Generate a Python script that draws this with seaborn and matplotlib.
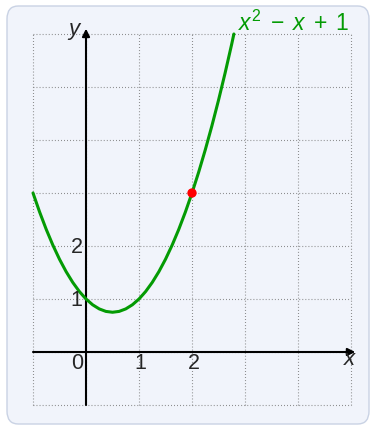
import matplotlib
matplotlib.use('Agg')
import matplotlib.pyplot as plt
import seaborn as sns
import pandas as pd
from matplotlib.patches import FancyBboxPatch


# Data

curve_x = [-1, -0.875, -0.75, -0.625, -0.5, -0.375, -0.25, -0.125, 0, 0.125, 0.25, 0.375,
           0.5, 0.625, 0.75, 0.875, 1, 1.125, 1.25, 1.375, 1.5, 1.625, 1.75, 1.875,
           2, 2.125, 2.25, 2.375, 2.5, 2.625, 2.75, 2.79]
curve_y = [3, 2.641, 2.313, 2.016, 1.75, 1.516, 1.313, 1.141, 1, 0.891, 0.813, 0.766,
           0.75, 0.766, 0.813, 0.891, 1, 1.141, 1.313, 1.516, 1.75, 2.016, 2.313, 2.641,
           3, 3.391, 3.813, 4.266, 4.75, 5.266, 5.813, 6.0]
point_x = [2]
point_y = [3]
x_ticks = [0, 1, 2]
y_ticks = [1, 2]
grid_x = [-1, 0, 1, 2, 3, 4, 5]
grid_y = [-1, 0, 1, 2, 3, 4, 5, 6]
curve_label = r'$x^2 \;-\; x \;+\; 1$'

green = '#049b04'

sns.set_style('white')
plt.rcParams['font.family'] = ['Liberation Sans', 'DejaVu Sans']
plt.rcParams['mathtext.fontset'] = 'custom'
plt.rcParams['mathtext.rm'] = 'Liberation Sans'
plt.rcParams['mathtext.it'] = 'Liberation Sans:italic'
plt.rcParams['lines.scale_dashes'] = False

fig = plt.figure(figsize=(3.75, 4.3), dpi=100)
fig.patch.set_facecolor('white')
ax = fig.add_axes([0, 0, 1, 1])
ax.patch.set_alpha(0)

# background panel
panel = FancyBboxPatch((7 / 375, 6 / 430), 362 / 375, 418 / 430,
                       boxstyle='round,pad=0,rounding_size=0.03',
                       transform=fig.transFigure, facecolor='#f1f4fb',
                       edgecolor='#c9d2e4', linewidth=1.0, zorder=-5)
fig.patches.append(panel)

# dotted grid
ax.vlines(grid_x, grid_y[0], grid_y[-1], colors='#7a7a7a', linewidth=0.8,
          linestyles=(0, (0.6, 1.6)), zorder=1)
ax.hlines(grid_y, grid_x[0], grid_x[-1], colors='#7a7a7a', linewidth=0.8,
          linestyles=(0, (0.6, 1.6)), zorder=1)

# axes with arrows
arrow = dict(arrowstyle='-|>', lw=1.5, color='black', mutation_scale=11,
             shrinkA=0, shrinkB=0)
ax.annotate('', xy=(5.08, 0), xytext=(-1, 0), arrowprops=arrow, zorder=2)
ax.annotate('', xy=(0, 6.1), xytext=(0, -1), arrowprops=arrow, zorder=2)

# curve and point
df = pd.DataFrame({'x': curve_x, 'y': curve_y})
sns.lineplot(data=df, x='x', y='y', color=green, linewidth=2.2, sort=False,
             solid_joinstyle='round', ax=ax, zorder=3)
sns.scatterplot(x=point_x, y=point_y, color='#ff0000', s=45, edgecolor='none',
                ax=ax, zorder=4)

# labels
ax.text(curve_x[-1] + 0.07, curve_y[-1] - 0.03, curve_label, color=green,
        fontsize=16.5, ha='left', va='bottom')
ax.text(-0.22, 6.05, r'$y$', fontsize=16, ha='center', va='center')
ax.text(4.98, -0.15, r'$x$', fontsize=16, ha='center', va='center')
ax.text(-0.17, -0.21, '0', fontsize=15.5, ha='center', va='center')
for t in x_ticks[1:]:
    ax.text(t + 0.03, -0.21, str(t), fontsize=15.5, ha='center', va='center')
for t in y_ticks:
    ax.text(-0.18, t - 0.03, str(t), fontsize=15.5, ha='center', va='center')

ax.set_xlim(-86 / 53, (375 - 86) / 53)
ax.set_ylim(-78 / 53, 352 / 53)
ax.axis('off')

fig.savefig('out.png', dpi=100)
